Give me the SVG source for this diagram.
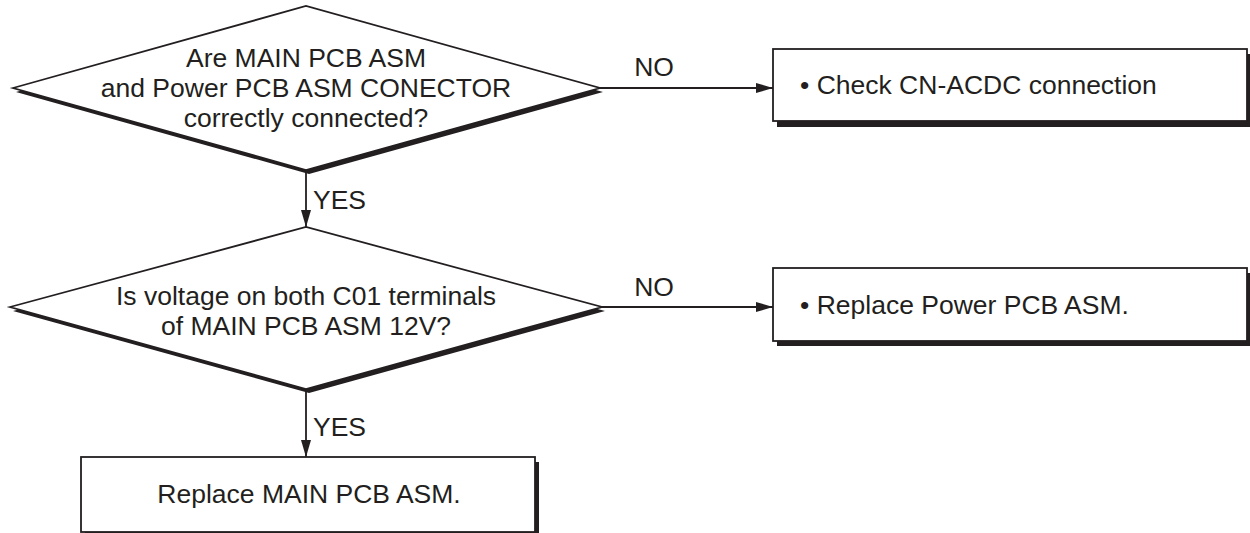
<svg xmlns="http://www.w3.org/2000/svg" width="1250" height="533" viewBox="0 0 1250 533">
<defs>
<style>
.shape{fill:#fff;stroke:#231f20;stroke-width:1.8}
.shadow{fill:#231f20;stroke:none}
.t{font-family:"Liberation Sans",Arial,Helvetica,sans-serif;font-size:26.5px;fill:#231f20}
.c{text-anchor:middle}
.line{stroke:#231f20;stroke-width:1.8;fill:none}
</style>
<marker id="arr" markerWidth="17" markerHeight="10" refX="17" refY="5" orient="auto" markerUnits="userSpaceOnUse">
<path d="M0,0 L17,5 L0,10 Z" fill="#231f20"/>
</marker>
</defs>
<rect width="1250" height="533" fill="#fff"/>
<g id="connectors">
<line class="line" x1="600" y1="88" x2="773" y2="88" marker-end="url(#arr)"/>
<text class="t c" x="654" y="76">NO</text>
<line class="line" x1="306" y1="170" x2="306" y2="227" marker-end="url(#arr)"/>
<text class="t" x="313" y="209">YES</text>
<line class="line" x1="602" y1="307" x2="773" y2="307" marker-end="url(#arr)"/>
<text class="t c" x="654" y="296">NO</text>
<line class="line" x1="306" y1="389" x2="306" y2="457" marker-end="url(#arr)"/>
<text class="t" x="313" y="436">YES</text>
</g>
<g id="decision1">
<polygon class="shadow" points="16,92 309,10 603,92 309,174"/>
<polygon class="shape" points="13,88 306,6 600,88 306,170"/>
<text class="t c" x="306" y="67">Are MAIN PCB ASM</text>
<text class="t c" x="306" y="97">and Power PCB ASM CONECTOR</text>
<text class="t c" x="306" y="127">correctly connected?</text>
</g>
<g id="action1">
<rect class="shadow" x="777" y="54" width="473" height="73"/>
<rect class="shape" x="773" y="49" width="474" height="72"/>
<text class="t" x="800" y="94">• Check CN-ACDC connection</text>
</g>
<g id="decision2">
<polygon class="shadow" points="13,311 309,231 605,311 309,393"/>
<polygon class="shape" points="10,307 306,227 602,307 306,389"/>
<text class="t c" x="306" y="305">Is voltage on both C01 terminals</text>
<text class="t c" x="306" y="335">of MAIN PCB ASM 12V?</text>
</g>
<g id="action2">
<rect class="shadow" x="777" y="273" width="473" height="73"/>
<rect class="shape" x="773" y="268" width="474" height="73"/>
<text class="t" x="800" y="314">• Replace Power PCB ASM.</text>
</g>
<g id="action3">
<rect class="shadow" x="85" y="462" width="454" height="75"/>
<rect class="shape" x="81" y="457" width="454" height="75"/>
<text class="t c" x="309" y="503">Replace MAIN PCB ASM.</text>
</g>
</svg>
